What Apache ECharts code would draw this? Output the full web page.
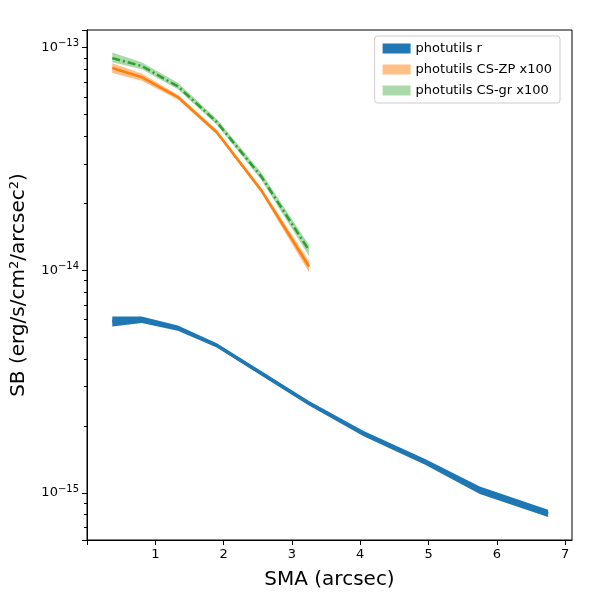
<!DOCTYPE html>
<html><head><meta charset="utf-8">
<script src="https://cdn.jsdelivr.net/npm/echarts@6/dist/echarts.min.js"></script>
<style>html,body{margin:0}#c{width:600px;height:600px}</style>
</head><body><div id="c"></div>
<script>
var sma = [0.37, 0.8, 1.33, 1.9, 2.55, 3.25, 4.05, 4.95, 5.75, 6.75];
var smaShort = [0.37, 0.8, 1.33, 1.9, 2.55, 3.25];
var rVal = [5.9e-15, 6.0e-15, 5.5e-15, 4.6e-15, 3.45e-15, 2.53e-15, 1.85e-15, 1.38e-15, 1.03e-15, 8.1e-16];
var rLo = [5.6e-15, 5.8e-15, 5.35e-15, 4.5e-15, 3.37e-15, 2.47e-15, 1.8e-15, 1.34e-15, 0.99e-15, 7.8e-16];
var rHi = [6.2e-15, 6.2e-15, 5.65e-15, 4.7e-15, 3.53e-15, 2.59e-15, 1.9e-15, 1.42e-15, 1.07e-15, 8.4e-16];
var zpVal = [8.1e-14, 7.37e-14, 6.0e-14, 4.17e-14, 2.29e-14, 1.04e-14];
var zpLo = [7.7e-14, 7.1e-14, 5.85e-14, 4.07e-14, 2.23e-14, 0.98e-14];
var zpHi = [8.5e-14, 7.65e-14, 6.15e-14, 4.27e-14, 2.35e-14, 1.1e-14];
var grVal = [8.97e-14, 8.27e-14, 6.7e-14, 4.63e-14, 2.64e-14, 1.23e-14];
var grLo = [8.6e-14, 8.0e-14, 6.5e-14, 4.5e-14, 2.55e-14, 1.16e-14];
var grHi = [9.5e-14, 8.6e-14, 6.95e-14, 4.78e-14, 2.75e-14, 1.3e-14];

function band(name, xs, lo, hi, color) {
  var data = xs.map(function (x, i) { return [x, lo[i], hi[i]]; });
  return {
    name: name, type: 'custom', data: data, z: 2,
    renderItem: function (params, api) {
      if (params.dataIndex !== 0) return;
      var pts = [];
      for (var i = 0; i < data.length; i++) pts.push(api.coord([data[i][0], data[i][2]]));
      for (var j = data.length - 1; j >= 0; j--) pts.push(api.coord([data[j][0], data[j][1]]));
      return { type: 'polygon', shape: { points: pts }, style: { fill: color } };
    },
    itemStyle: { color: color }
  };
}
function line(name, xs, ys, color, type, w) {
  return {
    name: name, type: 'line', symbol: 'none', z: 3,
    data: xs.map(function (x, i) { return [x, ys[i]]; }),
    lineStyle: { color: color, width: w, type: type }
  };
}

var chart = echarts.init(document.getElementById('c'));
chart.setOption({
  animation: false,
  grid: { left: 87, right: 28, top: 30, bottom: 60, show: true, borderColor: '#000', borderWidth: 1 },
  legend: {
    right: 40, top: 36, orient: 'vertical', itemWidth: 28, itemHeight: 10, icon: 'rect',
    backgroundColor: '#fff', borderColor: '#ccc', borderWidth: 1, borderRadius: 3, padding: [6, 8],
    textStyle: { fontFamily: 'DejaVu Sans', fontSize: 13, color: '#000' },
    data: ['photutils r', 'photutils CS-ZP x100', 'photutils CS-gr x100']
  },
  xAxis: {
    type: 'value', min: 0, max: 7.1, interval: 1,
    name: 'SMA (arcsec)', nameLocation: 'middle', nameGap: 30,
    nameTextStyle: { fontFamily: 'DejaVu Sans', fontSize: 20, color: '#000' },
    axisLine: { onZero: false, lineStyle: { color: '#000' } },
    axisTick: { lineStyle: { color: '#000' }, length: 5 },
    axisLabel: { fontFamily: 'DejaVu Sans', fontSize: 13, color: '#000', showMaxLabel: false,
      formatter: function (v) { return v === 0 ? '' : String(v); } },
    splitLine: { show: false }
  },
  yAxis: {
    type: 'log', logBase: 10, min: 6.15e-16, max: 1.2e-13,
    name: 'SB (erg/s/cm{s|2}/arcsec{s|2})', nameLocation: 'middle', nameGap: 58,
    nameTextStyle: { fontFamily: 'DejaVu Sans', fontSize: 20, color: '#000', rich: { s: { fontSize: 13, verticalAlign: 'top', padding: [0,0,8,0] } } },
    axisLine: { show: true, lineStyle: { color: '#000' } },
    axisTick: { show: true, lineStyle: { color: '#000' }, length: 5 },
    minorTick: { show: true, splitNumber: 9, length: 3, lineStyle: { color: '#000' } },
    axisLabel: { fontFamily: 'DejaVu Sans', fontSize: 13, color: '#000',
      formatter: function (v) {
        var e = Math.round(Math.log10(v));
        if (Math.abs(Math.log10(v) - e) > 1e-6) return '';
        return '10{s|\u2212' + (-e) + '}';
      },
      rich: { s: { fontSize: 10, verticalAlign: 'top', padding: [0,0,8,0] } } },
    splitLine: { show: false }
  },
  series: [
    band('photutils r', sma, rLo, rHi, '#1f77b4'),
    line('photutils r', sma, rVal, '#1f77b4', 'solid', 3),
    band('photutils CS-ZP x100', smaShort, zpLo, zpHi, 'rgba(255,127,14,0.5)'),
    line('photutils CS-ZP x100', smaShort, zpVal, '#ff7f0e', 'solid', 2.5),
    band('photutils CS-gr x100', smaShort, grLo, grHi, 'rgba(44,160,44,0.4)'),
    line('photutils CS-gr x100', smaShort, grVal, '#2ca02c', [8, 3, 2, 3], 2.5)
  ]
});
</script></body></html>
